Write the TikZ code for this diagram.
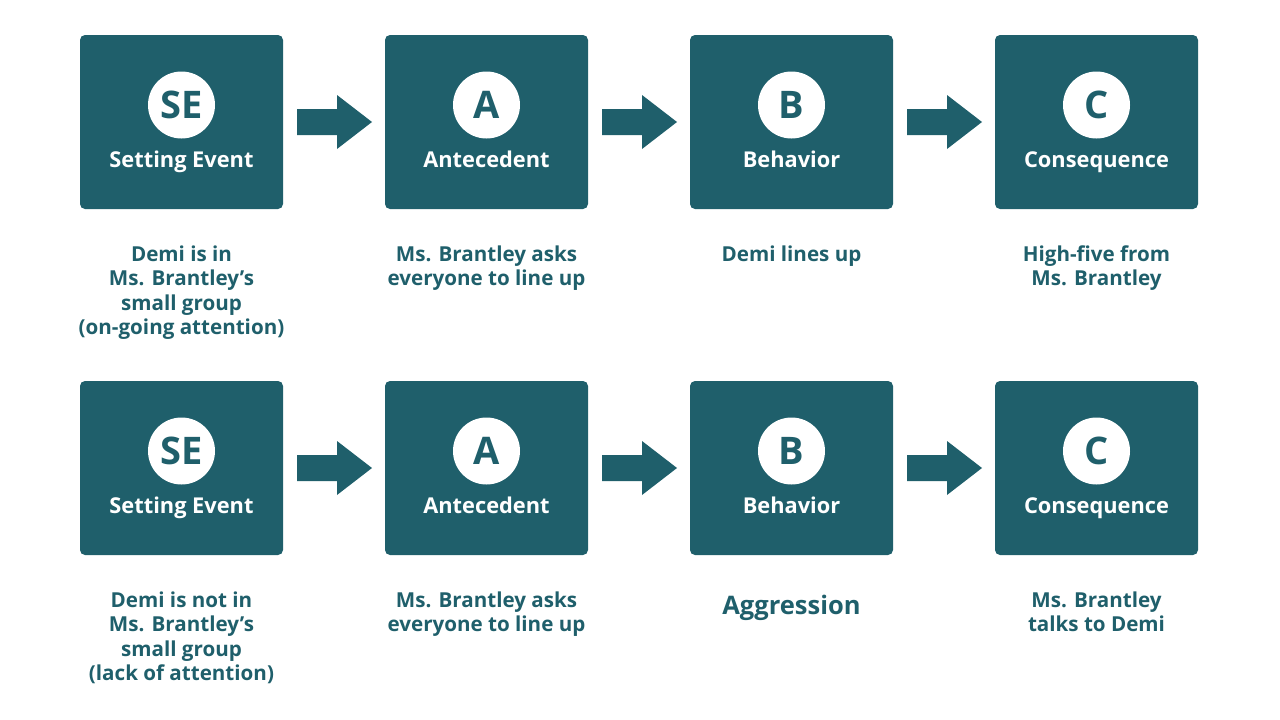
\documentclass[tikz,border=0pt]{standalone}
\usepackage{fontspec}
\setmainfont{Open Sans}
\begin{document}
\begin{tikzpicture}[x=1pt,y=-1pt,
  box/.style={fill=teal0,rounded corners=5pt,minimum width=203pt,minimum height=174pt,inner sep=0pt},
  circ/.style={circle,fill=white,minimum size=67pt,inner sep=0pt,font=\bfseries\fontsize{38}{40}\selectfont,text=teal0},
  lbl/.style={text=white,font=\bfseries\fontsize{21.8}{24}\selectfont,anchor=base},
  desc/.style={text=teal0,font=\bfseries\fontsize{20.6}{24.5}\selectfont,align=center,anchor=north},
  arr/.style={fill=teal0}]
\definecolor{teal0}{HTML}{1F5F6B}
\useasboundingbox (0,0) rectangle (1280,720);
\foreach \r/\yy in {0/0,1/346}{
 \foreach \i/\x/\l/\t in {0/181.5/SE/Setting Event,1/486.5/A/Antecedent,2/791.5/B/Behavior,3/1096.5/C/Consequence}{
   \node[box] (b\r\i) at (\x,122+\yy) {};
   \node[circ] (c\r\i) at (\x,105+\yy) {\l};
   \node[lbl] (l\r\i) at (\x,167+\yy) {\t};
 }
 \foreach \x in {297,602,907}{
   \fill[arr] (\x,109+\yy) -- (\x+40,109+\yy) -- (\x+40,95+\yy) -- (\x+75,122+\yy) -- (\x+40,149+\yy) -- (\x+40,135+\yy) -- (\x,135+\yy) -- cycle;
 }
}
\node[desc] (d00) at (181.5,242) {Demi is in\\Ms. Brantley’s\\small group\\(on-going attention)};
\node[desc] (d01) at (486.5,242) {Ms. Brantley asks\\everyone to line up};
\node[desc] (d02) at (791.5,242) {Demi lines up};
\node[desc] (d03) at (1096.5,242) {High-five from\\Ms. Brantley};
\node[desc] (d10) at (181.5,588) {Demi is not in\\Ms. Brantley’s\\small group\\(lack of attention)};
\node[desc] (d11) at (486.5,588) {Ms. Brantley asks\\everyone to line up};
\node[desc,font=\bfseries\fontsize{25.5}{28}\selectfont] (d12) at (791.5,592) {Aggression};
\node[desc] (d13) at (1096.5,588) {Ms. Brantley\\talks to Demi};
\end{tikzpicture}
\end{document}
